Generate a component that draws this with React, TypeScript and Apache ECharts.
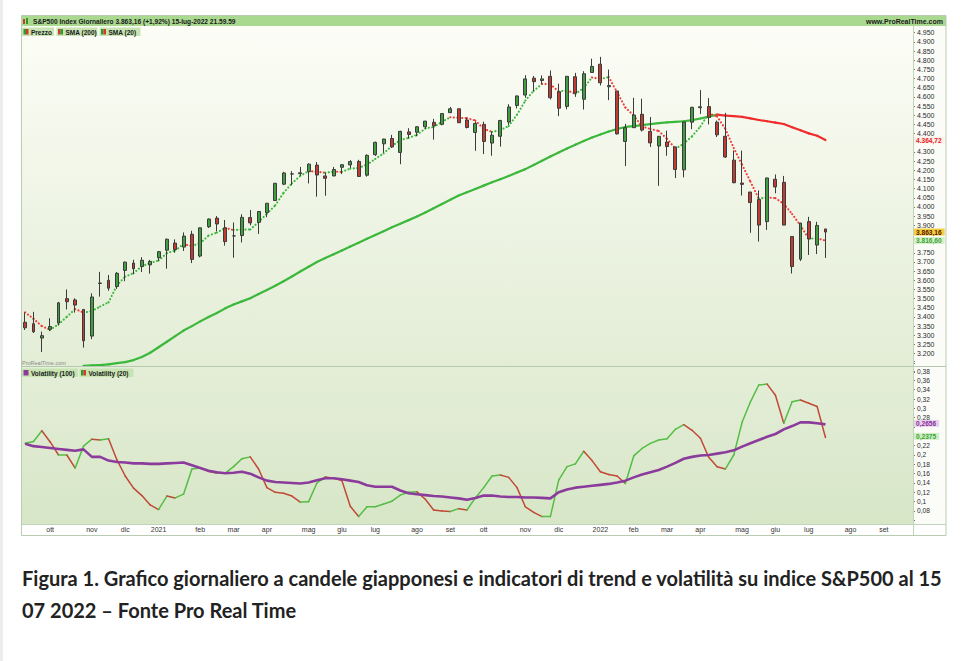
import React, { useEffect, useRef } from "react";
import * as echarts from "echarts";

// ---------- data (weekly) ----------
const START_WEEK = "2020-09-07";
const WEEK_COUNT = 107; // through late September 2022 (axis runs past the last bar)
const MONTHS_IT = ["gen", "feb", "mar", "apr", "mag", "giu", "lug", "ago", "set", "ott", "nov", "dic"];

// [open, high, low, close] per week
const ohlc: number[][] = [
  [3371, 3425, 3329, 3341], [3363, 3428, 3313, 3319], [3285, 3320, 3209, 3298], [3333, 3393, 3323, 3348],
  [3367, 3482, 3354, 3477], [3500, 3550, 3441, 3483], [3493, 3502, 3424, 3465], [3441, 3441, 3233, 3270],
  [3296, 3529, 3279, 3509], [3583, 3646, 3511, 3585], [3600, 3629, 3543, 3557], [3566, 3645, 3553, 3638],
  [3654, 3702, 3595, 3699], [3694, 3712, 3633, 3663], [3675, 3726, 3645, 3709], [3684, 3711, 3636, 3703],
  [3723, 3760, 3707, 3756], [3764, 3827, 3663, 3824], [3803, 3823, 3750, 3768], [3781, 3861, 3760, 3841],
  [3851, 3870, 3694, 3714], [3732, 3887, 3725, 3886], [3892, 3937, 3885, 3934], [3939, 3950, 3866, 3907],
  [3886, 3929, 3789, 3811], [3842, 3915, 3723, 3842], [3844, 3960, 3806, 3943], [3942, 3983, 3900, 3913],
  [3916, 3978, 3853, 3975], [3969, 4020, 3944, 4020], [4035, 4130, 4035, 4129], [4124, 4191, 4119, 4185],
  [4179, 4195, 4118, 4180], [4186, 4218, 4170, 4181], [4192, 4238, 4128, 4233], [4228, 4245, 4056, 4174],
  [4169, 4187, 4061, 4156], [4169, 4218, 4167, 4204], [4216, 4234, 4179, 4230], [4229, 4255, 4212, 4247],
  [4248, 4257, 4164, 4166], [4173, 4287, 4165, 4281], [4285, 4356, 4278, 4352], [4344, 4372, 4295, 4370],
  [4373, 4393, 4321, 4327], [4297, 4415, 4233, 4412], [4409, 4429, 4374, 4395], [4407, 4440, 4385, 4437],
  [4437, 4468, 4426, 4468], [4461, 4480, 4367, 4442], [4450, 4509, 4445, 4509], [4514, 4545, 4512, 4535],
  [4535, 4535, 4457, 4459], [4474, 4486, 4428, 4433], [4406, 4466, 4306, 4455], [4450, 4465, 4288, 4357],
  [4348, 4412, 4279, 4391], [4385, 4475, 4329, 4471], [4463, 4560, 4447, 4545], [4553, 4608, 4537, 4605],
  [4610, 4718, 4595, 4698], [4702, 4714, 4630, 4683], [4689, 4717, 4672, 4698], [4712, 4744, 4586, 4595],
  [4628, 4672, 4495, 4538], [4548, 4713, 4532, 4712], [4710, 4731, 4600, 4620], [4587, 4740, 4531, 4726],
  [4733, 4808, 4733, 4766], [4778, 4818, 4662, 4677], [4655, 4749, 4582, 4662], [4632, 4632, 4395, 4398],
  [4357, 4453, 4223, 4432], [4432, 4595, 4431, 4501], [4505, 4590, 4411, 4419], [4412, 4490, 4327, 4349],
  [4332, 4385, 4115, 4385], [4354, 4416, 4279, 4329], [4327, 4328, 4157, 4204], [4202, 4465, 4161, 4463],
  [4462, 4546, 4424, 4543], [4541, 4637, 4507, 4546], [4547, 4593, 4450, 4488], [4462, 4471, 4381, 4393],
  [4385, 4513, 4267, 4272], [4255, 4308, 4129, 4132], [4130, 4307, 4062, 4123], [4081, 4082, 3859, 4024],
  [4041, 4090, 3811, 3901], [3920, 4159, 3875, 4158], [4151, 4177, 4074, 4109], [4134, 4169, 3900, 3901],
  [3839, 3839, 3637, 3675], [3715, 3913, 3705, 3912], [3920, 3946, 3738, 3825], [3792, 3919, 3743, 3899],
  [3880, 3880, 3722, 3863.16],
];

const sma20: number[] = [
  3425, 3390, 3350, 3330, 3360, 3401, 3443, 3424, 3432, 3457,
  3480, 3572, 3620, 3639, 3677, 3694, 3708, 3748, 3763, 3797,
  3787, 3802, 3844, 3860, 3885, 3874, 3876, 3877, 3918, 3963,
  4009, 4077, 4129, 4169, 4195, 4192, 4186, 4192, 4191, 4209,
  4212, 4231, 4262, 4292, 4333, 4365, 4376, 4393, 4428, 4436,
  4464, 4489, 4486, 4484, 4471, 4426, 4409, 4419, 4441, 4503,
  4580, 4633, 4671, 4669, 4629, 4636, 4616, 4649, 4706, 4697,
  4708, 4626, 4542, 4498, 4438, 4425, 4414, 4371, 4317, 4345,
  4385, 4439, 4510, 4493, 4425, 4321, 4230, 4138, 4045, 4052,
  4048, 4017, 3961, 3899, 3828, 3828, 3816.6,
];

const sma200: (number | null)[] = [
  null, null, null, null, null, null, null,
  3134, 3136, 3138, 3142, 3148, 3154, 3165, 3182, 3205, 3235,
  3265, 3296, 3326, 3350, 3376, 3400, 3422, 3447, 3468, 3485,
  3502, 3525, 3547, 3570, 3595, 3621, 3648, 3674, 3700, 3721,
  3742, 3763, 3784, 3805, 3826, 3847, 3868, 3889, 3908, 3928,
  3948, 3970, 3993, 4016, 4039, 4062, 4080, 4098, 4116, 4134,
  4151, 4169, 4188, 4206, 4229, 4252, 4275, 4297, 4318, 4339,
  4359, 4378, 4395, 4411, 4425, 4436, 4441, 4446, 4451, 4457,
  4461, 4464, 4467, 4473, 4482, 4492, 4503, 4498, 4495, 4491,
  4483, 4474, 4467, 4460, 4452, 4434, 4418, 4401, 4388, 4364.72,
];

const vol20: number[] = [
  0.225, 0.229, 0.252, 0.228, 0.2, 0.2, 0.172, 0.219, 0.234, 0.232,
  0.235, 0.19, 0.155, 0.129, 0.113, 0.093, 0.083, 0.112, 0.108, 0.116,
  0.17, 0.172, 0.165, 0.161, 0.161, 0.175, 0.192, 0.196, 0.17, 0.13,
  0.12, 0.118, 0.112, 0.099, 0.1, 0.14, 0.153, 0.15, 0.145, 0.09,
  0.068, 0.089, 0.089, 0.095, 0.101, 0.114, 0.12, 0.121, 0.105, 0.082,
  0.08, 0.079, 0.085, 0.082, 0.108, 0.13, 0.155, 0.157, 0.152, 0.13,
  0.089, 0.077, 0.068, 0.068, 0.146, 0.175, 0.181, 0.208, 0.188, 0.164,
  0.158, 0.155, 0.139, 0.198, 0.214, 0.225, 0.232, 0.235, 0.255, 0.265,
  0.253, 0.236, 0.195, 0.175, 0.17, 0.2, 0.27, 0.314, 0.35, 0.352,
  0.328, 0.268, 0.314, 0.318, 0.311, 0.304, 0.2375,
];

const vol100: number[] = [
  0.224, 0.219, 0.217, 0.215, 0.213, 0.211, 0.209, 0.212, 0.196, 0.196,
  0.188, 0.185, 0.184, 0.182, 0.182, 0.181, 0.181, 0.182, 0.183, 0.184,
  0.178, 0.172, 0.166, 0.163, 0.161, 0.162, 0.164, 0.16, 0.152, 0.145,
  0.142, 0.141, 0.14, 0.139, 0.141, 0.146, 0.15, 0.15, 0.148, 0.145,
  0.142, 0.135, 0.132, 0.132, 0.132, 0.124, 0.118, 0.116, 0.114, 0.112,
  0.111, 0.109, 0.107, 0.104, 0.108, 0.113, 0.113, 0.111, 0.11, 0.11,
  0.109, 0.109, 0.108, 0.107, 0.12, 0.126, 0.13, 0.132, 0.134, 0.136,
  0.138, 0.141, 0.145, 0.152, 0.158, 0.163, 0.168, 0.175, 0.183, 0.192,
  0.196, 0.199, 0.2, 0.203, 0.206, 0.21, 0.218, 0.225, 0.232, 0.239,
  0.245, 0.255, 0.262, 0.27, 0.27, 0.268, 0.2656,
];

const TITLE = "S&P500 Index Giornaliero 3.863,16 (+1,92%) 15-lug-2022 21.59.59";
const CAPTION_1 = "Figura 1. Grafico giornaliero a candele giapponesi e indicatori di trend e volatilità su indice S&P500 al 15";
const CAPTION_2 = "07 2022 – Fonte Pro Real Time";

// ---------- helpers ----------
function buildWeeks(): string[] {
  const out: string[] = [];
  const t0 = Date.parse(START_WEEK + "T00:00:00Z");
  for (let i = 0; i < WEEK_COUNT; i++) {
    out.push(new Date(t0 + i * 7 * 86400000).toISOString().slice(0, 10));
  }
  return out;
}

function monthLabels(weeks: string[]): Record<number, string> {
  const map: Record<number, string> = {};
  const friday = (w: string) => new Date(Date.parse(w + "T00:00:00Z") + 4 * 86400000);
  for (let i = 1; i < weeks.length; i++) {
    const a = friday(weeks[i - 1]);
    const b = friday(weeks[i]);
    if (a.getUTCMonth() !== b.getUTCMonth()) {
      const m = b.getUTCMonth();
      map[i] = m === 0 ? String(b.getUTCFullYear()) : MONTHS_IT[m];
    }
  }
  return map;
}

const fmtThousands = (v: number) => String(Math.round(v)).replace(/\B(?=(\d{3})+(?!\d))/g, ".");
const fmtPrice = (v: number) => {
  const [i, d] = v.toFixed(2).split(".");
  return i.replace(/\B(?=(\d{3})+(?!\d))/g, ".") + "," + d;
};
const fmtVol = (v: number) => String(+v.toFixed(4)).replace(".", ",");

function slopeSeries(
  name: string,
  data: (number | null)[],
  up: string,
  down: string,
  width: number,
  dash: number[] | null,
  axis: number
) {
  const segs: number[][] = [];
  for (let i = 0; i < data.length - 1; i++) {
    const a = data[i];
    const b = data[i + 1];
    if (a == null || b == null) continue;
    segs.push([i, a, i + 1, b]);
  }
  return {
    type: "custom",
    name,
    coordinateSystem: "cartesian2d",
    xAxisIndex: axis,
    yAxisIndex: axis,
    clip: true,
    silent: true,
    data: segs,
    encode: { x: [0, 2], y: [1, 3] },
    renderItem: (_p: any, api: any) => {
      const v1 = api.value(1);
      const v2 = api.value(3);
      const p1 = api.coord([api.value(0), v1]);
      const p2 = api.coord([api.value(2), v2]);
      return {
        type: "line",
        shape: { x1: p1[0], y1: p1[1], x2: p2[0], y2: p2[1] },
        style: {
          stroke: v2 >= v1 ? up : down,
          lineWidth: width,
          lineDash: dash || undefined,
          lineCap: "round",
          fill: null,
        },
      };
    },
    z: 3,
  };
}

function buildOption() {
  const weeks = buildWeeks();
  const labels = monthLabels(weeks);
  const lastClose = ohlc[ohlc.length - 1][3];
  const lastSma20 = sma20[sma20.length - 1];
  const lastSma200 = sma200[sma200.length - 1] as number;
  const lastVol100 = vol100[vol100.length - 1];
  const lastVol20 = vol20[vol20.length - 1];

  const hiddenPrice = [5000, 3100, 3150, 4350, 3850, 3800];
  const hiddenVol = [0.4, 0.06, 0.26, 0.24];

  const font = "Liberation Sans, Arial, sans-serif";

  const tag = (value: number, text: string, color: string, bg: string, dy = 0) => ({
    yAxis: value,
    lineStyle: { color: "rgba(0,0,0,0)", width: 0 },
    label: {
      show: true,
      position: "end",
      distance: 1,
      offset: [0, dy],
      formatter: text,
      color,
      opacity: 1,
      backgroundColor: bg,
      padding: [0, 3, 0, 2],
      lineHeight: 7,
      fontSize: 6.6,
      fontWeight: "bold",
      fontFamily: font,
    },
  });

  const graphics: any[] = [
    { type: "rect", z: -20, shape: { x: 0, y: 0, width: 3, height: 661 }, style: { fill: "#ededed" } },
    {
      type: "rect", z: -10, shape: { x: 21, y: 26, width: 892, height: 340 },
      style: {
        fill: new echarts.graphic.LinearGradient(0, 0, 0, 1, [
          { offset: 0, color: "#fcfdf6" },
          { offset: 1, color: "#e3edd6" },
        ]),
      },
    },
    {
      type: "rect", z: -10, shape: { x: 21, y: 367, width: 892, height: 157 },
      style: {
        fill: new echarts.graphic.LinearGradient(0, 0, 0, 1, [
          { offset: 0, color: "#e4eed8" },
          { offset: 1, color: "#d7e6c7" },
        ]),
      },
    },
    { type: "rect", z: -10, shape: { x: 913, y: 26, width: 33, height: 498 }, style: { fill: "#fbfcf8" } },
    { type: "rect", z: -10, shape: { x: 21, y: 524, width: 925, height: 11 }, style: { fill: "#ffffff" } },
    { type: "line", z: 50, shape: { x1: 21, y1: 366.5, x2: 946, y2: 366.5 }, style: { stroke: "#b4c8ab", lineWidth: 1 } },
    { type: "line", z: 50, shape: { x1: 913.5, y1: 26, x2: 913.5, y2: 535 }, style: { stroke: "#c2d3bb", lineWidth: 1 } },
    { type: "line", z: 50, shape: { x1: 21, y1: 524.5, x2: 946, y2: 524.5 }, style: { stroke: "#c2d3bb", lineWidth: 1 } },
    { type: "rect", z: 50, shape: { x: 21.5, y: 15.5, width: 924.5, height: 520 }, style: { fill: null, stroke: "#b9cbb1", lineWidth: 1 } },
    { type: "rect", z: 40, shape: { x: 21, y: 16, width: 925, height: 10 }, style: { fill: "#a9d98f" } },
    { type: "rect", z: 41, shape: { x: 23, y: 19, width: 2, height: 5 }, style: { fill: "#d23a2a" } },
    { type: "rect", z: 41, shape: { x: 26, y: 18, width: 2, height: 6 }, style: { fill: "#2e9a2e" } },
    {
      type: "text", z: 42, x: 33, y: 21.2,
      style: { text: TITLE, fill: "#1a1a1a", font: `bold 6.6px ${font}`, textVerticalAlign: "middle" },
    },
    {
      type: "text", z: 42, x: 943, y: 21.2,
      style: { text: "www.ProRealTime.com", fill: "#1a1a1a", font: `bold 7px ${font}`, textAlign: "right", textVerticalAlign: "middle" },
    },
  ];

  const legendBox = (x: number, y: number, w: number, text: string, icon: string[]) => {
    graphics.push({ type: "rect", z: 40, shape: { x, y, width: w, height: 8.5 }, style: { fill: "#c7e4b2" } });
    if (icon.length === 1) {
      graphics.push({ type: "rect", z: 41, shape: { x: x + 1.5, y: y + 1.5, width: 5, height: 5.5 }, style: { fill: icon[0] } });
    } else {
      graphics.push({ type: "rect", z: 41, shape: { x: x + 1.5, y: y + 1.5, width: 2.5, height: 5.5 }, style: { fill: icon[0] } });
      graphics.push({ type: "rect", z: 41, shape: { x: x + 4, y: y + 1.5, width: 2.5, height: 5.5 }, style: { fill: icon[1] } });
    }
    graphics.push({
      type: "text", z: 42, x: x + 9, y: y + 4.6,
      style: { text, fill: "#1a1a1a", font: `bold 6.5px ${font}`, textVerticalAlign: "middle" },
    });
  };
  legendBox(22, 27.5, 32, "Prezzo", ["#2e9a2e", "#d23a2a"]);
  legendBox(56.5, 27.5, 41, "SMA (200)", ["#d23a2a", "#2e9a2e"]);
  legendBox(99.5, 27.5, 41, "SMA (20)", ["#2e9a2e", "#d23a2a"]);
  legendBox(22, 368.5, 56, "Volatility (100)", ["#8b3b9b"]);
  legendBox(79.5, 368.5, 54, "Volatility (20)", ["#2e9a2e", "#d23a2a"]);

  graphics.push({
    type: "text", z: 42, x: 22, y: 363.3,
    style: { text: "ProRealTime.com", fill: "#8a8a8a", font: `5.5px ${font}`, textVerticalAlign: "middle" },
  });

  const capFont = `bold 20px Lato, "Noto Sans", sans-serif`;
  graphics.push({
    type: "text", z: 42, x: 22, y: 578,
    style: { text: CAPTION_1, fill: "#222222", font: capFont, textVerticalAlign: "middle" },
  });
  graphics.push({
    type: "text", z: 42, x: 22, y: 610,
    style: { text: CAPTION_2, fill: "#222222", font: capFont, textVerticalAlign: "middle" },
  });

  const markLineBase = {
    silent: true,
    symbol: ["none", "none"],
    lineStyle: { color: "rgba(0,0,0,0)", width: 0 },
    label: { show: true },
  };

  return {
    animation: false,
    backgroundColor: "#ffffff",
    textStyle: { fontFamily: font },
    grid: [
      { left: 21, right: 49, top: 23.5, height: 348.5 },
      { left: 21, right: 49, top: 361.7, height: 158.6 },
    ],
    xAxis: [
      { type: "category", gridIndex: 0, data: weeks, boundaryGap: true, show: false },
      {
        type: "category", gridIndex: 1, data: weeks, boundaryGap: true,
        axisLine: { show: false }, axisTick: { show: false }, splitLine: { show: false },
        axisLabel: {
          interval: (i: number) => labels[i] != null,
          formatter: (_v: string, i: number) => labels[i] ?? "",
          fontSize: 7, color: "#333333", margin: 5.5, fontFamily: font,
        },
      },
    ],
    yAxis: [
      {
        type: "value", gridIndex: 0, position: "right", min: 3100, max: 5000, interval: 50,
        splitLine: { show: false }, axisLine: { show: false },
        axisTick: { show: true, length: 2, lineStyle: { color: "#777777" } },
        axisLabel: {
          fontSize: 7, color: "#2a2a2a", margin: 4, fontFamily: font,
          formatter: (v: number) => (hiddenPrice.includes(Math.round(v)) ? "" : fmtThousands(v)),
        },
      },
      {
        type: "value", gridIndex: 1, position: "right", min: 0.06, max: 0.4, interval: 0.02,
        splitLine: { show: false }, axisLine: { show: false },
        axisTick: { show: true, length: 2, lineStyle: { color: "#777777" } },
        axisLabel: {
          fontSize: 6.6, lineHeight: 7, color: "#2a2a2a", margin: 4, fontFamily: font,
          formatter: (v: number) => {
            const r = Math.round(v * 100) / 100;
            return hiddenVol.includes(r) ? "" : fmtVol(r);
          },
        },
      },
    ],
    series: [
      {
        type: "candlestick",
        name: "Prezzo",
        xAxisIndex: 0,
        yAxisIndex: 0,
        barWidth: 3.4,
        data: ohlc.map(([o, h, l, c]) => [o, c, l, h]),
        itemStyle: {
          color: "#3f9e3f",
          color0: "#c23b30",
          borderColor: "#3b3b3b",
          borderColor0: "#3b3b3b",
          borderWidth: 1,
        },
        z: 4,
      },
      slopeSeries("SMA (200)", sma200, "#3bb83b", "#f02c2c", 2.2, null, 0),
      slopeSeries("SMA (20)", sma20, "#3cb83c", "#f23a3a", 2.1, [0.1, 3.4], 0),
      {
        type: "line",
        name: "price-tags",
        xAxisIndex: 0,
        yAxisIndex: 0,
        data: [],
        silent: true,
        z: 10,
        markLine: {
          ...markLineBase,
          data: [
            tag(lastSma200, fmtPrice(lastSma200), "#ee2020", "#f9f1ec"),
            tag(lastClose, fmtPrice(lastClose), "#5a1500", "#f1cf3f"),
            tag(lastSma20, fmtPrice(lastSma20), "#34a534", "#d8efcb"),
          ],
        },
      },
      {
        type: "line",
        name: "Volatility (100)",
        xAxisIndex: 1,
        yAxisIndex: 1,
        data: vol100,
        showSymbol: false,
        lineStyle: { color: "#8b3b9b", width: 2.6 },
        itemStyle: { color: "#8b3b9b" },
        z: 3,
      },
      slopeSeries("Volatility (20)", vol20, "#55bd45", "#c04a36", 1.5, null, 1),
      {
        type: "line",
        name: "vol-tags",
        xAxisIndex: 1,
        yAxisIndex: 1,
        data: [],
        silent: true,
        z: 10,
        markLine: {
          ...markLineBase,
          data: [
            tag(lastVol100, fmtVol(lastVol100), "#8b2e9b", "#e6d3ea", 1),
            tag(lastVol20, fmtVol(lastVol20), "#34a534", "#d3edc6"),
          ],
        },
      },
    ],
    graphic: { elements: graphics },
  };
}

export default function App() {
  const ref = useRef<HTMLDivElement>(null);
  useEffect(() => {
    if (!ref.current) return;
    const chart = echarts.init(ref.current, null, { renderer: "svg" });
    chart.setOption(buildOption() as any);
    return () => chart.dispose();
  }, []);
  return (
    <div
      ref={ref}
      style={{ position: "fixed", left: 0, top: 0, width: 962, height: 661, background: "#ffffff" }}
    />
  );
}
